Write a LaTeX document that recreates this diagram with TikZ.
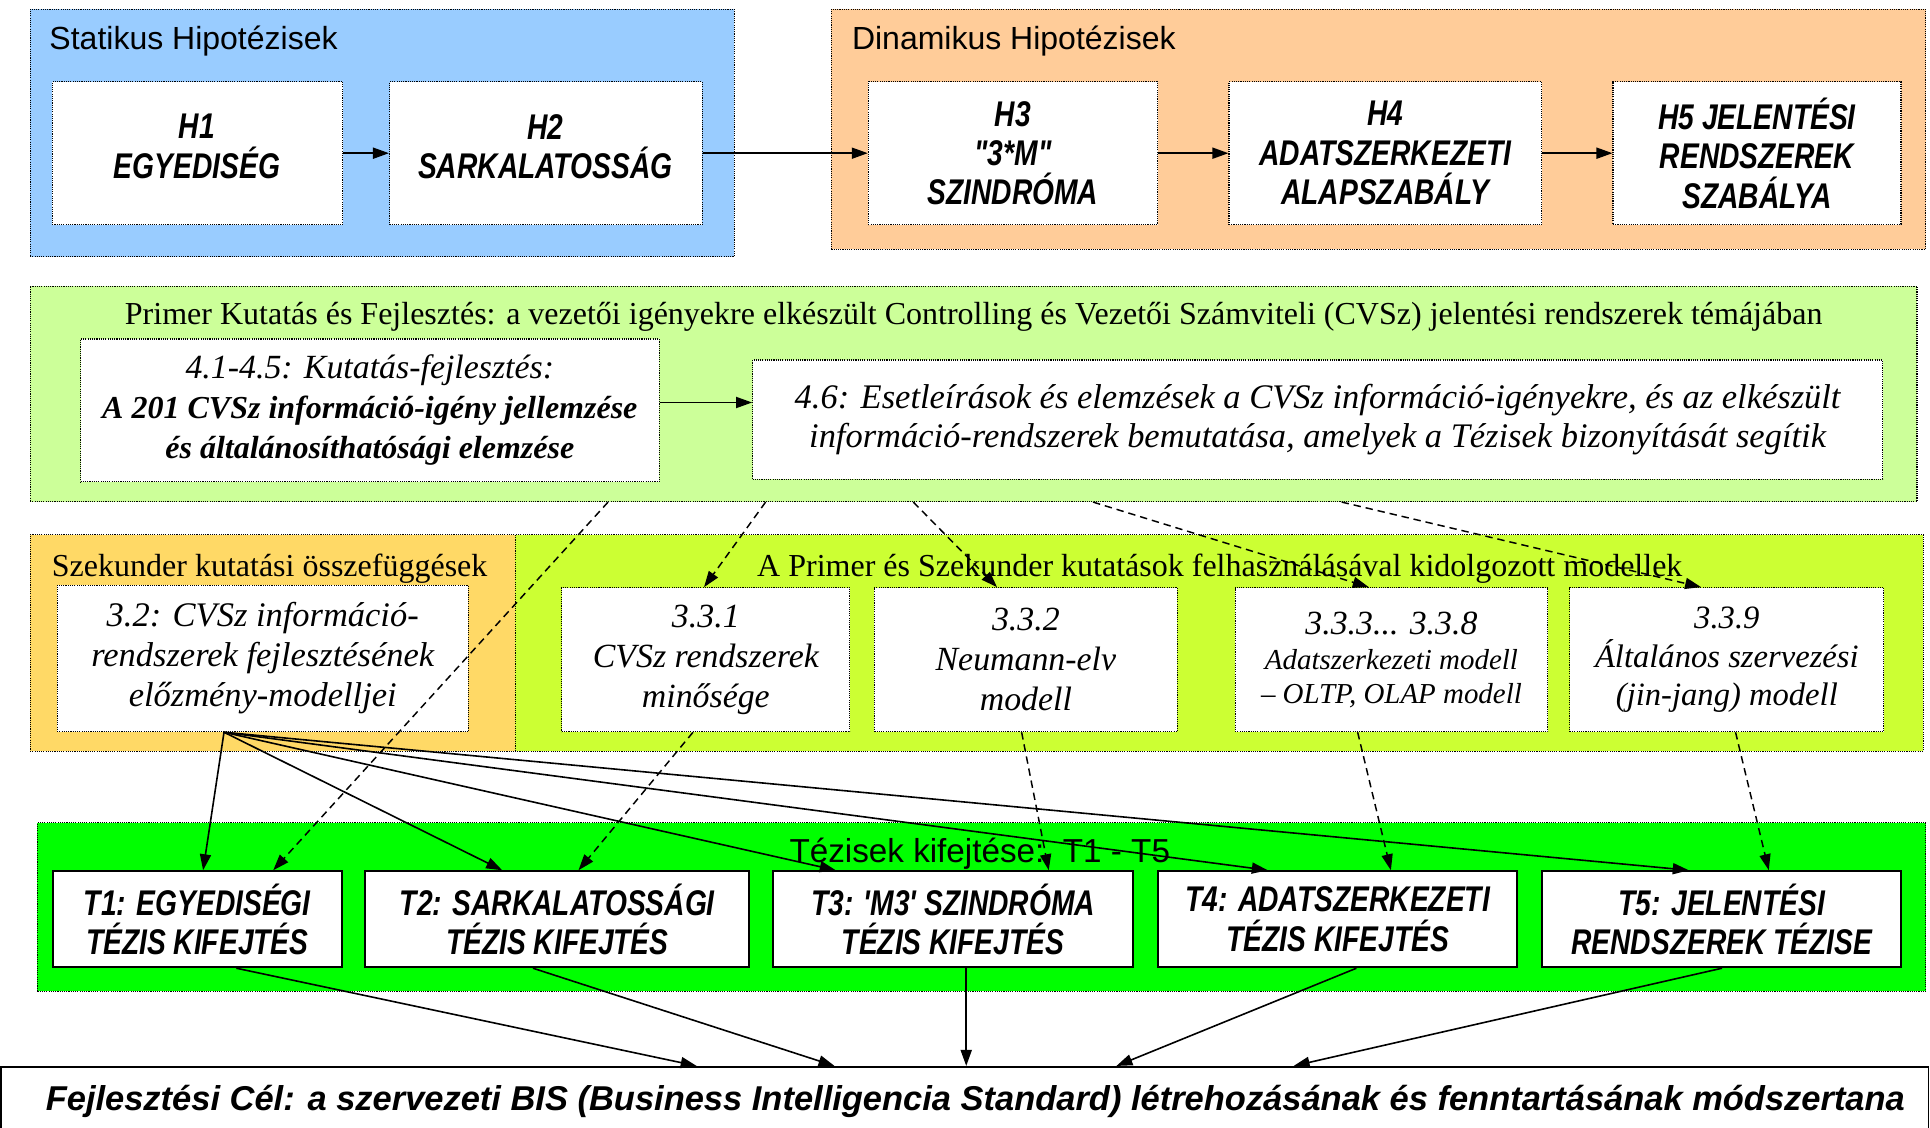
\documentclass[tikz,border=0pt]{standalone}
\usepackage{fontspec}
\setmainfont{Liberation Serif}
\newfontfamily\hsans{Liberation Sans}
\newfontfamily\hnarrow{Liberation Sans}[FakeStretch=0.79, Ligatures=TeXOff]
\usetikzlibrary{arrows.meta,calc}

\definecolor{statbg}{HTML}{99CCFF}
\definecolor{dynbg}{HTML}{FFCC99}
\definecolor{primbg}{HTML}{CCFF99}
\definecolor{szekbg}{HTML}{FFD966}
\definecolor{modbg}{HTML}{CCFF33}
\definecolor{tezbg}{HTML}{00FF00}

\tikzset{
  dotbox/.style={draw=black, line width=0.9pt, dash pattern=on 0.9pt off 0.9pt,
                 inner sep=0pt, anchor=north west},
  wbox/.style={dotbox, fill=white, align=center},
  hfont/.style={font=\hnarrow\bfseries\itshape\fontsize{29}{32}\selectfont},
  hyp/.style={wbox, hfont},
  htxt/.style={inner sep=0pt, align=center, hfont},
  ser/.style={wbox, font=\itshape\fontsize{27.5}{32.5}\selectfont},
  tbox/.style={draw=black, line width=1.6pt, fill=white, inner sep=0pt, anchor=north west,
               align=center, hfont},
  ttl/.style={inner sep=0pt, anchor=base west, font=\hsans\fontsize{26}{30}\selectfont},
  sttl/.style={inner sep=0pt, anchor=base, font=\fontsize{26}{30}\selectfont},
  tip/.tip={Triangle[length=13pt,width=9pt]},
  flow/.style={line width=1.3pt, -tip},
  refl/.style={line width=1.2pt, dash pattern=on 6pt off 4pt, -tip},
}

\begin{document}
\begin{tikzpicture}[x=1pt,y=-1pt]
\useasboundingbox (0,0) rectangle (1568,916);
\fill[white] (0,0) rectangle (1568,916);

% ---- hypotheses ----
\node[dotbox, fill=statbg, minimum width=572pt, minimum height=201pt] (stat) at (24,7) {};
\node[ttl] (statttl) at (40,40) {Statikus Hipotézisek};
\node[dotbox, fill=white, minimum width=236pt, minimum height=116pt] (h1) at (42,66) {};
\node[htxt] (h1t) at (160,119) {H1\\EGYEDISÉG};
\node[dotbox, fill=white, minimum width=254pt, minimum height=116pt] (h2) at (316,66) {};
\node[htxt] (h2t) at (443,119) {H2\\SARKALATOSSÁG};

\node[dotbox, fill=dynbg, minimum width=889pt, minimum height=195pt] (dyn) at (675,7) {};
\node[ttl] (dynttl) at (692,40) {Dinamikus Hipotézisek};
\node[hyp, minimum width=235pt, minimum height=116pt] (h3) at (705,66) {H3\\"3*M"\\SZINDRÓMA};
\node[hyp, minimum width=254pt, minimum height=116pt] (h4) at (998,66) {H4\\ADATSZERKEZETI\\ALAPSZABÁLY};
\node[hyp, minimum width=234pt, minimum height=116pt] (h5) at (1310,66) {H5 JELENTÉSI\\RENDSZEREK\\SZABÁLYA};

% ---- primary research ----
\node[dotbox, fill=primbg, minimum width=1533pt, minimum height=175pt] (prim) at (24,232) {};
\node[sttl] (primttl) at (791,264) {Primer Kutatás és Fejlesztés: a vezetői igényekre elkészült Controlling és Vezetői Számviteli (CVSz) jelentési rendszerek témájában};
\node[ser, minimum width=470pt, minimum height=116pt] (k41) at (65,275)
  {4.1-4.5: Kutatás-fejlesztés:\\{\bfseries\fontsize{26}{31}\selectfont A 201 CVSz információ-igény jellemzése}\\{\bfseries\fontsize{26}{31}\selectfont és általánosíthatósági elemzése}};
\node[ser, minimum width=918pt, minimum height=97pt, font=\itshape\fontsize{28}{32}\selectfont] (k46) at (611,292)
  {4.6: Esetleírások és elemzések a CVSz információ-igényekre, és az elkészült\\információ-rendszerek bemutatása, amelyek a Tézisek bizonyítását segítik};

% ---- secondary research and models ----
\node[dotbox, fill=szekbg, minimum width=394pt, minimum height=176pt] (szek) at (24,434) {};
\node[sttl, anchor=base west] (szekttl) at (42,468) {Szekunder kutatási összefüggések};
\node[ser, minimum width=334pt, minimum height=119pt, font=\itshape\fontsize{28}{32.5}\selectfont] (s32) at (46,475)
  {3.2: CVSz információ-\\rendszerek fejlesztésének\\előzmény-modelljei};

\node[dotbox, fill=modbg, minimum width=1144pt, minimum height=176pt] (mod) at (418,434) {};
\node[sttl] (modttl) at (991,468) {A Primer és Szekunder kutatások felhasználásával kidolgozott modellek};
\node[ser, minimum width=234pt, minimum height=117pt] (m331) at (456,477) {3.3.1\\CVSz rendszerek\\minősége};
\node[ser, minimum width=246pt, minimum height=117pt] (m332) at (710,477) {3.3.2\\Neumann-elv\\modell};
\node[ser, minimum width=254pt, minimum height=117pt] (m333) at (1003,477)
  {3.3.3... 3.3.8\\[-4pt]{\fontsize{23.5}{27.5}\selectfont Adatszerkezeti modell}\\[-5pt]{\fontsize{23.5}{27.5}\selectfont – OLTP, OLAP modell}};
\node[ser, minimum width=255pt, minimum height=117pt, font=\itshape\fontsize{26.5}{31}\selectfont] (m339) at (1275,477) {3.3.9\\Általános szervezési\\(jin-jang) modell};

% ---- theses ----
\node[dotbox, fill=tezbg, minimum width=1534pt, minimum height=137pt] (tez) at (30,668) {};
\node[ttl, anchor=base, font=\hsans\fontsize{27}{30}\selectfont] (tezttl) at (796,701) {Tézisek kifejtése:\ \ T1 - T5};
\node[tbox, minimum width=235pt, minimum height=78pt] (t1) at (42,707) {T1: EGYEDISÉGI\\TÉZIS KIFEJTÉS};
\node[tbox, minimum width=312pt, minimum height=78pt] (t2) at (296,707) {T2: SARKALATOSSÁGI\\TÉZIS KIFEJTÉS};
\node[tbox, minimum width=293pt, minimum height=78pt] (t3) at (627,707) {T3: 'M3' SZINDRÓMA\\TÉZIS KIFEJTÉS};
\node[tbox, minimum width=292pt, minimum height=78pt] (t4) at (940,707) {T4: ADATSZERKEZETI\\TÉZIS KIFEJTÉS};
\node[tbox, minimum width=292pt, minimum height=78pt] (t5) at (1252,707) {T5: JELENTÉSI\\RENDSZEREK TÉZISE};

% ---- goal ----
\node[draw=black, line width=1.5pt, fill=white, inner sep=0pt, anchor=north west,
      minimum width=1566pt, minimum height=80pt] (goal) at (0,866) {};
\node[inner sep=0pt, anchor=base west, font=\hsans\bfseries\itshape\fontsize{28}{32}\selectfont]
  (goaltxt) at (37,902) {Fejlesztési Cél: a szervezeti BIS (Business Intelligencia Standard) létrehozásának és fenntartásának módszertana};

% ---- hypothesis chain ----
\draw[flow] (h1.east) -- (h2.west);
\draw[flow] (h2.east) -- (h3.west);
\draw[flow] (h3.east) -- (h4.west);
\draw[flow] (h4.east) -- (h5.west);
\draw[flow] (k41.east |- 0,327) -- (k46.west |- 0,327);

% ---- references from primary research ----
\draw[refl] (494,0 |- prim.south) -- (222,0 |- t1.north);
\draw[refl] (622,0 |- prim.south) -- (572,0 |- m331.north);
\draw[refl] (742,0 |- prim.south) -- (810,0 |- m332.north);
\draw[refl] (888,0 |- prim.south) -- (1112,0 |- m333.north);
\draw[refl] (1090,0 |- prim.south) -- (1382,0 |- m339.north);

% ---- models feeding the theses ----
\draw[refl] (563,0 |- m331.south) -- (470,0 |- t2.north);
\draw[refl] (830,0 |- m332.south) -- (852,0 |- t3.north);
\draw[refl] (1103,0 |- m333.south) -- (1130,0 |- t4.north);
\draw[refl] (1410,0 |- m339.south) -- (1437,0 |- t5.north);

% ---- secondary research fan-out ----
\coordinate (fan) at (182,0 |- s32.south);
\draw[flow] (fan) -- (165,0 |- t1.north);
\draw[flow] (fan) -- (408,0 |- t2.north);
\draw[flow] (fan) -- (679,0 |- t3.north);
\draw[flow] (fan) -- (1030,0 |- t4.north);
\draw[flow] (fan) -- (1372,0 |- t5.north);

% ---- theses to the goal ----
\draw[flow] (192,0 |- t1.south) -- (566,0 |- goal.north);
\draw[flow] (433,0 |- t2.south) -- (678,0 |- goal.north);
\draw[flow] (785,0 |- t3.south) -- (785,0 |- goal.north);
\draw[flow] (1102,0 |- t4.south) -- (907,0 |- goal.north);
\draw[flow] (1399,0 |- t5.south) -- (1051,0 |- goal.north);
\end{tikzpicture}
\end{document}
